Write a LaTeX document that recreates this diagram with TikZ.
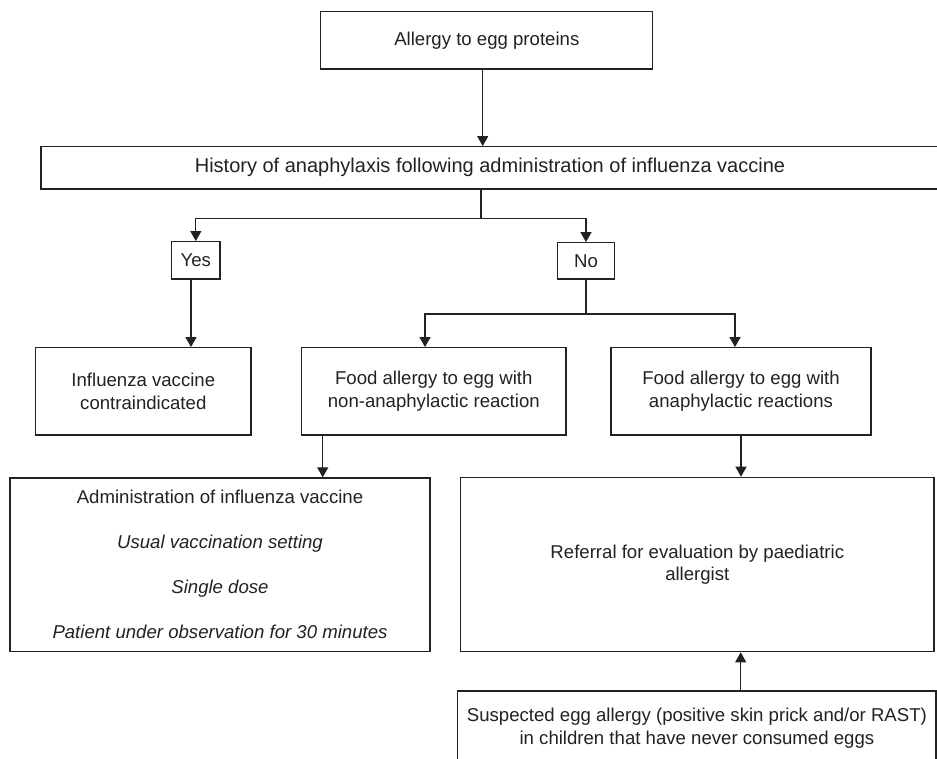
\documentclass[tikz,border=0pt]{standalone}
\usepackage{fontspec}
\setmainfont{Liberation Sans}
\usetikzlibrary{arrows.meta}
\definecolor{ink}{HTML}{222222}
\tikzset{
  box/.style={draw=ink, line width=1.2pt, inner sep=0pt, align=center, text=ink,
    font=\fontsize{18.6}{22.5}\selectfont},
  conn/.style={draw=ink, line width=1.2pt},
  arr/.style={conn, -{Triangle[width=11pt,length=10pt]}}
}
\begin{document}
\begin{tikzpicture}[x=1pt,y=-1pt]
\useasboundingbox (0,0) rectangle (937,759);
\fill[white] (0,0) rectangle (937,759);
\clip (0,0) rectangle (937,759);
\node[box, minimum width=332pt, minimum height=57.3pt] (top) at (486.8,40.3) {Allergy to egg proteins};
\node[box, minimum width=898pt, minimum height=42.3pt, font=\fontsize{20}{24}\selectfont] (hist) at (490,167.8) {History of anaphylaxis following administration of influenza vaccine};
\node[box, minimum width=48.3pt, minimum height=37.3pt] (yes) at (195.8,260.3) {Yes};
\node[box, minimum width=56.6pt, minimum height=36.3pt] (no) at (586,260.8) {No};
\node[box, minimum width=215.3pt, minimum height=87.3pt] (inf) at (143.3,391.3) {Influenza vaccine\\contraindicated};
\node[box, minimum width=264.3pt, minimum height=87.3pt] (nonana) at (433.8,391.3) {Food allergy to egg with\\non-anaphylactic reaction};
\node[box, minimum width=260pt, minimum height=87.3pt] (ana) at (741,391.3) {Food allergy to egg with\\anaphylactic reactions};
\node[box, minimum width=420pt, minimum height=173.7pt] (admin) at (220,564.8) {Administration of influenza vaccine\\[22.5pt]\textit{Usual vaccination setting}\\[22.5pt]\textit{Single dose}\\[22.5pt]\textit{Patient under observation for 30 minutes}};
\node[box, minimum width=473.3pt, minimum height=174.4pt] (ref) at (697.3,564.5) {Referral for evaluation by paediatric\\allergist};
\node[box, minimum width=478.3pt, minimum height=74pt] (susp) at (696.9,728) {Suspected egg allergy (positive skin prick and/or RAST)\\in children that have never consumed eggs};
% connectors
\draw[arr] ([xshift=-4.1pt]top.south) -- ([xshift=-4.1pt]top.south |- hist.north);
\coordinate (j1) at (481,218.3);
\draw[conn] (hist.south -| j1) -- (j1);
\draw[arr] (j1) -| (yes.north);
\draw[arr] (j1) -| (no.north);
\draw[arr] ([xshift=-4.8pt]yes.south) -- ([xshift=-4.8pt]yes.south |- inf.north);
\coordinate (j2) at (586,314);
\draw[conn] (no.south) -- (j2);
\draw[arr] (j2) -| ([xshift=-8.8pt]nonana.north);
\draw[arr] (j2) -| ([xshift=-6pt]ana.north);
\draw[arr] ([xshift=-111.1pt]nonana.south) -- ([xshift=-111.1pt]nonana.south |- admin.north);
\draw[arr] (ana.south) -- (ana.south |- ref.north);
\draw[arr] ([xshift=43.8pt]susp.north) -- ([xshift=43.8pt]susp.north |- ref.south);
\end{tikzpicture}
\end{document}
